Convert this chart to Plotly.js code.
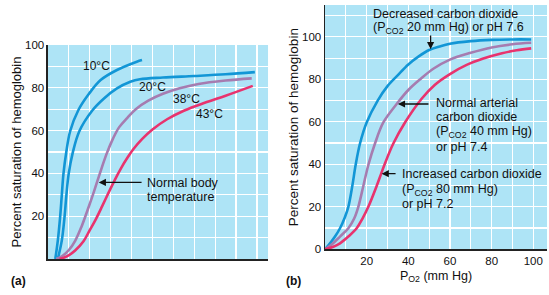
<!DOCTYPE html>
<html>
<head>
<meta charset="utf-8">
<script src="https://cdn.plot.ly/plotly-3.0.1.min.js"></script>
<style>html,body{margin:0;padding:0;background:#fff;}#chart{width:549px;height:295px;}</style>
</head>
<body>
<div id="chart"></div>
<script>
// ---- Panel (a): temperature effect ----
var t10_x = [3.5, 4.7, 5.8, 6.6, 7.4, 8.7, 10.6, 14.5, 19.7, 25.2, 33, 42.5, 45];
var t10_y = [0, 8.6, 19.5, 29.7, 39.8, 49.5, 59.7, 69.5, 77.3, 83.6, 88.3, 92.2, 93];
var t20_x = [4.7, 6.6, 7.9, 8.8, 9.9, 11.8, 15, 21.3, 26.8, 33, 39.4, 44, 55, 70, 85, 99];
var t20_y = [0, 8.6, 19.5, 29.7, 39.8, 49.5, 59.7, 69.5, 75, 79.7, 82.8, 84, 84.8, 85.5, 86.3, 87.3];
var t38_x = [3.9, 7, 10, 13, 16, 19, 22, 25, 28, 31, 34, 38, 42, 48, 55, 63, 72, 85, 97.5];
var t38_y = [0, 1.5, 4.2, 8.5, 15, 23, 31.5, 40.5, 49, 56, 61.5, 66, 70, 74, 77.2, 79.8, 81.8, 83.4, 84.4];
var t43_x = [5.5, 9, 13, 17, 20, 23, 26, 29, 32, 35, 38, 41, 45, 50, 57, 65, 75, 85, 98];
var t43_y = [0, 1.2, 4, 8.3, 13.5, 18.8, 24.8, 31, 37, 42.5, 47.3, 51.5, 56, 60.5, 65.3, 69.3, 73, 76.3, 80.9];
var tempLabels = ["10°C", "20°C", "38°C", "43°C"];

// ---- Panel (b): carbon dioxide / pH effect ----
var co2low_x = [0, 2.4, 4.8, 7.2, 9.5, 11.2, 13.1, 14.7, 16.8, 20, 25.3, 30, 35, 40, 45, 50, 55, 60, 70, 80, 90, 99];
var co2low_y = [0, 2.8, 6, 9.9, 15, 20, 29.8, 39.7, 49.8, 59.7, 70, 76.8, 82, 87, 90.8, 93.8, 95.5, 96.8, 98, 98.6, 98.8, 98.8];
var co2norm_x = [0, 3.5, 7.2, 11.2, 14, 16, 18.4, 20.8, 24, 28, 34.4, 40, 46, 52, 60, 70, 80, 90, 99];
var co2norm_y = [0, 2.5, 6, 9.9, 14.5, 20, 29.8, 39.7, 49.8, 59.7, 68.4, 75, 80.3, 85, 89.3, 92.5, 95, 96.5, 97.2];
var co2high_x = [0, 4, 7.2, 11.2, 15.2, 18, 20.8, 24.8, 26.9, 28.5, 32.8, 38.4, 46.5, 52.8, 60, 68, 76, 85, 92, 99];
var co2high_y = [0, 1.2, 2.8, 6, 9.9, 14.5, 20, 29.8, 35.4, 39.7, 49.8, 59.7, 71, 77.5, 82.5, 86.8, 89.8, 92.3, 93.7, 94.6];

var yTickVals = [0,10,20,30,40,50,60,70,80,90,100,110];
var yTickTextA = ["", "", "20", "", "40", "", "60", "", "80", "", "100", ""];
var yTickTextB = ["0", "", "20", "", "40", "", "60", "", "80", "", "100", ""];
var xTickVals = [0,10,20,30,40,50,60,70,80,90,100];
var xTickTextB = ["", "", "20", "", "40", "", "60", "", "80", "", "100"];

var BLUE = "#1296d6", PURPLE = "#a67cb0", RED = "#e8336e";
var FONT = "Liberation Sans, Arial, sans-serif";

function curve(x, y, color, xa, ya) {
  return {x: x, y: y, type: "scatter", mode: "lines", xaxis: xa, yaxis: ya,
    line: {color: color, width: 2.6, shape: "spline", smoothing: 1}, hoverinfo: "skip", showlegend: false};
}

var data = [
  curve(t10_x, t10_y, BLUE, "x", "y"),
  curve(t20_x, t20_y, BLUE, "x", "y"),
  curve(t38_x, t38_y, PURPLE, "x", "y"),
  curve(t43_x, t43_y, RED, "x", "y"),
  curve(co2low_x, co2low_y, BLUE, "x2", "y2"),
  curve(co2norm_x, co2norm_y, PURPLE, "x2", "y2"),
  curve(co2high_x, co2high_y, RED, "x2", "y2")
];

var gridAxis = {showgrid: true, gridcolor: "#ffffff", gridwidth: 1.2, zeroline: false,
  showline: true, linecolor: "#222", linewidth: 1.5, ticks: "", fixedrange: true, automargin: false,
  tickfont: {family: FONT, size: 11.5, color: "#111"}};

function ann(text, x, y, xr, yr, anchor, size) {
  return {text: text, x: x, y: y, xref: xr, yref: yr, showarrow: false,
    xanchor: anchor || "left", yanchor: "middle", align: "left",
    font: {family: FONT, size: size || 12.5, color: "#111"}};
}
function arrow(x, y, ax, ay, xr, yr) {
  return {text: "", x: x, y: y, ax: ax, ay: ay, xref: xr, yref: yr, axref: xr, ayref: yr,
    showarrow: true, arrowhead: 2, arrowsize: 1.1, arrowwidth: 1.3, arrowcolor: "#111", standoff: 0, startstandoff: 0};
}

var layout = {
  width: 549, height: 295,
  margin: {l: 0, r: 0, t: 0, b: 0},
  paper_bgcolor: "#ffffff",
  plot_bgcolor: "#aee4f6",
  font: {family: FONT, color: "#111"},
  xaxis: Object.assign({}, gridAxis, {domain: [0.0874, 0.4882], range: [0, 105.3], anchor: "y",
    tickvals: xTickVals, showticklabels: false}),
  yaxis: Object.assign({}, gridAxis, {domain: [0.1220, 0.8475], range: [0, 100], anchor: "x",
    tickvals: yTickVals, ticktext: yTickTextA,
    title: {text: "Percent saturation of hemoglobin", font: {family: FONT, size: 13, color: "#111"}, standoff: 0}}),
  xaxis2: Object.assign({}, gridAxis, {domain: [0.592, 0.9964], range: [0, 106.6], anchor: "y2",
    tickvals: xTickVals, ticktext: xTickTextB,
    title: {text: "P<sub>O2</sub> (mm Hg)", font: {family: FONT, size: 12.5, color: "#111"}, standoff: 5}}),
  yaxis2: Object.assign({}, gridAxis, {domain: [0.1549, 0.983], range: [0, 115], anchor: "x2",
    tickvals: yTickVals, ticktext: yTickTextB,
    title: {text: "Percent saturation of hemoglobin", font: {family: FONT, size: 13.5, color: "#111"}, standoff: 0}}),
  annotations: [
    ann(tempLabels[0], 23.3, 90.3, "x", "y", "center", 12),
    ann(tempLabels[1], 50.1, 80.6, "x", "y", "center", 12),
    ann(tempLabels[2], 66.4, 74.6, "x", "y", "center", 12),
    ann(tempLabels[3], 77.5, 67.6, "x", "y", "center", 12),
    ann("Normal body", 46.4, 35.5, "x", "y"),
    ann("temperature", 46.4, 29.2, "x", "y"),
    arrow(24.3, 35.8, 45.5, 35.8, "x", "y"),

    ann("Decreased carbon dioxide", 21.9, 110.7, "x2", "y2"),
    ann("(P<sub>CO2</sub> 20 mm Hg) or pH 7.6", 21.9, 104, "x2", "y2"),
    arrow(50.7, 94.2, 50.7, 101.3, "x2", "y2"),
    ann("Normal arterial", 52.2, 68.7, "x2", "y2"),
    ann("carbon dioxide", 52.2, 62.1, "x2", "y2"),
    ann("(P<sub>CO2</sub> 40 mm Hg)", 52.2, 55.3, "x2", "y2"),
    ann("or pH 7.4", 52.2, 48.3, "x2", "y2"),
    arrow(35.0, 68.4, 50.4, 68.4, "x2", "y2"),
    ann("Increased carbon dioxide", 36, 35.6, "x2", "y2"),
    ann("(P<sub>CO2</sub> 80 mm Hg)", 36, 27.9, "x2", "y2"),
    ann("or pH 7.2", 36, 21.4, "x2", "y2"),
    arrow(27.2, 35.6, 34.6, 35.6, "x2", "y2"),

    {text: "<b>(a)</b>", x: 0.0328, y: 0.0475, xref: "paper", yref: "paper", showarrow: false,
      xanchor: "center", yanchor: "middle", font: {family: FONT, size: 12, color: "#111"}},
    {text: "<b>(b)</b>", x: 0.5355, y: 0.0475, xref: "paper", yref: "paper", showarrow: false,
      xanchor: "center", yanchor: "middle", font: {family: FONT, size: 12, color: "#111"}}
  ]
};

Plotly.newPlot("chart", data, layout, {staticPlot: true, displayModeBar: false});
</script>
</body>
</html>
